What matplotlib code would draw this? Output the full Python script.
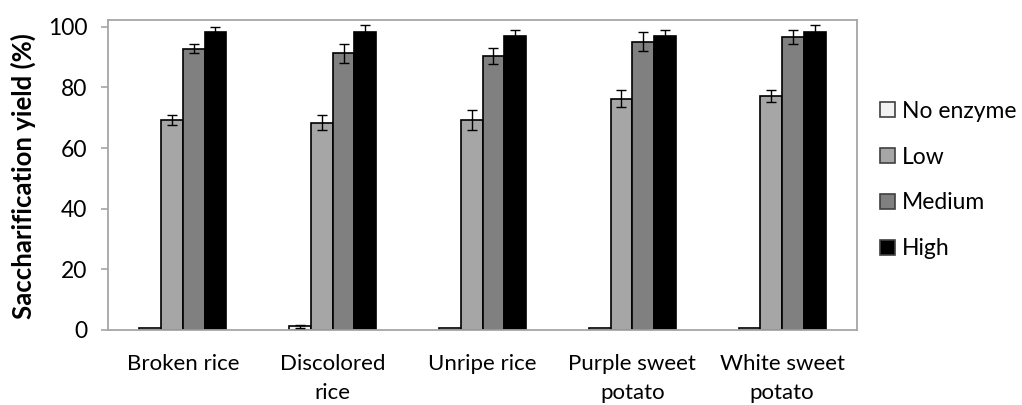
import matplotlib
matplotlib.use("Agg")
import matplotlib.pyplot as plt
import numpy as np

plt.rcParams['font.family'] = ['Lato', 'DejaVu Sans']

categories = ["Broken rice", "Discolored\nrice", "Unripe rice", "Purple sweet\npotato", "White sweet\npotato"]
series_names = ["No enzyme", "Low", "Medium", "High"]
no_enzyme = [0.5, 1.3, 0.5, 0.5, 0.5]
low = [69.3, 68.4, 69.3, 76.2, 77.1]
medium = [92.7, 91.2, 90.3, 95.1, 96.6]
high = [98.4, 98.4, 96.8, 96.8, 98.4]
no_enzyme_err = [0.0, 0.5, 0.0, 0.0, 0.0]
low_err = [1.6, 2.4, 3.2, 2.8, 1.9]
medium_err = [1.5, 3.2, 2.7, 3.1, 2.3]
high_err = [1.5, 2.2, 2.2, 2.2, 2.2]
yticks = [0, 20, 40, 60, 80, 100]

values = [no_enzyme, low, medium, high]
errors = [no_enzyme_err, low_err, medium_err, high_err]
colors = ["#f2f2f2", "#a6a6a6", "#808080", "#000000"]

fig = plt.figure(figsize=(10.22, 4.05), dpi=100)
ax = fig.add_axes([108/1022, 1-330/405, (857-108)/1022, (330-19.7)/405])

x = np.arange(len(categories))
w = 0.145
offsets = (np.arange(4) - 1.5) * w
for i in range(4):
    errs = errors[i]
    yerr = [e if e > 0 else np.nan for e in errs]
    ax.bar(x + offsets[i], values[i], width=w, color=colors[i], edgecolor="black",
           linewidth=1.2, label=series_names[i], zorder=2)
    ax.errorbar(x + offsets[i], values[i], yerr=yerr, fmt="none", ecolor="black",
                elinewidth=1.0, capsize=3.8, capthick=1.0, zorder=3)

ax.set_xlim(-0.5, len(categories) - 0.5)
ax.set_ylim(0, 102.3)
ax.set_yticks(yticks)
ax.set_xticks(x)
ax.set_xticklabels(categories, fontsize=16, linespacing=1.6)
ax.tick_params(axis='y', labelsize=16.5, direction='out', length=5, width=1.2, color='#a6a6a6', pad=10)
ax.tick_params(axis='x', length=0, pad=17)
for s in ax.spines.values():
    s.set_color('#a6a6a6')
    s.set_linewidth(1.3)
ax.set_ylabel("Saccharification yield (%)", fontsize=18.5, fontweight='bold')
ax.yaxis.set_label_coords((36 - 108) / 749, (330 - 176) / 310.3)

handles, labels = ax.get_legend_handles_labels()
leg = fig.legend(handles, labels, loc='center left', bbox_to_anchor=(869/1022, 1-180/405),
                 frameon=False, fontsize=16.5, handlelength=0.65, handleheight=0.65,
                 handletextpad=0.28, labelspacing=1.09, borderpad=0)
for h in leg.legend_handles:
    h.set_edgecolor('#404040')
    h.set_linewidth(1.2)

fig.savefig("out.png", dpi=100)
